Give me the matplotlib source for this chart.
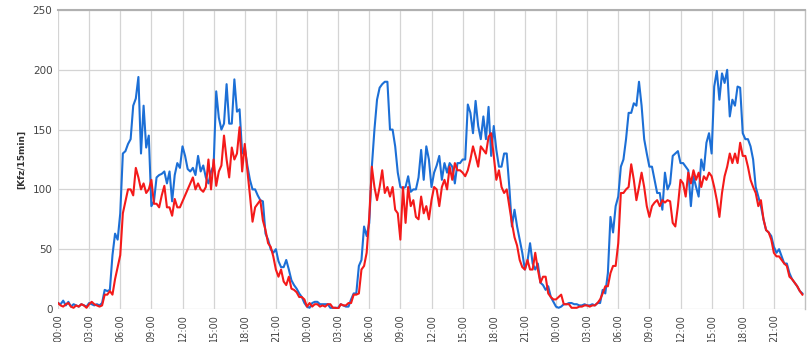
import numpy as np
import matplotlib
matplotlib.use("Agg")
import matplotlib.pyplot as plt

# 15-minute traffic counts [Kfz/15min], three consecutive days
blue_day1 = [5, 4, 7, 3, 6, 2, 4, 3, 2, 4, 3, 2, 5, 4, 3, 4,
             3, 5, 16, 15, 16, 45, 63, 58, 80, 130, 132, 138, 142, 170, 176, 194,
             130, 170, 135, 145, 86, 90, 110, 112, 113, 115, 105, 115, 90, 112, 122, 118,
             136, 128, 117, 115, 118, 112, 128, 115, 120, 110, 105, 115, 120, 182, 160, 150,
             155, 188, 155, 155, 192, 165, 167, 130, 135, 120, 108, 100, 100, 95, 91, 90,
             63, 58, 50, 47, 50, 40, 35, 35, 41, 33, 24, 20, 17, 13, 10, 5]
red_day1 = [5, 3, 2, 4, 5, 2, 1, 3, 2, 4, 3, 1, 4, 6, 4, 3,
            2, 3, 12, 12, 15, 12, 25, 35, 45, 80, 90, 100, 100, 95, 118, 110,
            100, 105, 97, 100, 108, 88, 88, 85, 95, 103, 85, 85, 78, 92, 85, 85,
            90, 95, 100, 105, 110, 100, 105, 100, 98, 102, 125, 100, 125, 103, 115, 120,
            145, 125, 110, 135, 125, 130, 152, 115, 138, 116, 95, 73, 85, 88, 91, 74,
            66, 55, 52, 44, 33, 27, 33, 23, 20, 27, 17, 16, 14, 10, 10, 8]
blue_day2 = [2, 1, 5, 6, 6, 4, 4, 4, 4, 1, 1, 1, 1, 4, 3, 2,
             2, 8, 13, 13, 36, 41, 69, 61, 72, 119, 150, 175, 185, 188, 190, 190,
             150, 150, 136, 114, 102, 101, 102, 111, 98, 100, 100, 110, 133, 108, 136, 125,
             102, 114, 120, 128, 108, 122, 114, 122, 119, 105, 122, 122, 125, 125, 171, 164,
             147, 174, 153, 142, 161, 142, 169, 128, 153, 133, 119, 119, 130, 130, 102, 69,
             83, 69, 58, 47, 33, 40, 55, 38, 33, 38, 22, 20, 16, 19, 10, 6]
red_day2 = [2, 5, 2, 4, 4, 2, 3, 2, 4, 4, 1, 1, 0, 4, 3, 3,
            5, 5, 12, 12, 13, 33, 36, 47, 77, 119, 102, 91, 102, 116, 97, 102,
            94, 102, 83, 80, 58, 102, 72, 102, 86, 91, 77, 75, 94, 80, 86, 75,
            91, 102, 100, 86, 102, 108, 100, 119, 108, 122, 116, 116, 114, 111, 116, 125,
            136, 128, 119, 136, 133, 130, 144, 147, 128, 108, 116, 102, 97, 100, 86, 72,
            60, 53, 41, 35, 33, 41, 33, 33, 47, 33, 22, 27, 27, 13, 10, 8]
blue_day3 = [2, 1, 2, 4, 4, 5, 5, 4, 4, 3, 3, 4, 3, 3, 4, 3,
             5, 5, 16, 13, 30, 77, 64, 86, 94, 119, 125, 142, 164, 164, 172, 170,
             190, 170, 142, 130, 119, 119, 108, 97, 97, 83, 114, 100, 105, 128, 130, 132,
             122, 122, 119, 116, 86, 111, 102, 94, 125, 116, 139, 147, 130, 186, 199, 175,
             197, 189, 200, 161, 175, 170, 186, 185, 147, 142, 142, 136, 125, 102, 94, 86,
             75, 66, 64, 61, 52, 47, 50, 44, 38, 38, 30, 25, 22, 19, 15, 13]
red_day3 = [8, 10, 12, 4, 4, 4, 1, 1, 1, 2, 2, 3, 3, 2, 3, 3,
            5, 8, 13, 19, 19, 30, 36, 36, 55, 97, 97, 100, 102, 121, 108, 91,
            102, 114, 102, 86, 77, 86, 89, 91, 86, 91, 89, 91, 90, 72, 69, 86,
            108, 105, 94, 114, 105, 116, 108, 114, 102, 111, 108, 114, 111, 102, 91, 77,
            97, 111, 119, 130, 122, 130, 122, 139, 128, 128, 119, 108, 102, 97, 86, 91,
            75, 66, 64, 58, 47, 44, 44, 41, 38, 36, 27, 25, 22, 19, 15, 12]

tick_labels = ["00:00", "03:00", "06:00", "09:00", "12:00", "15:00", "18:00", "21:00"] * 3
y_ticks = [0, 50, 100, 150, 200, 250]
y_label = "[Kfz/15min]"

blue = np.array(blue_day1 + blue_day2 + blue_day3, dtype=float)
red = np.array(red_day1 + red_day2 + red_day3, dtype=float)
hours = np.arange(len(blue)) * 0.25

fig = plt.figure(figsize=(8.07, 3.42), dpi=100)
ax = fig.add_axes([58 / 807, 1 - 309 / 342, (805 - 58) / 807, (309 - 10) / 342])

ax.plot(hours, blue, color="#1c6fd6", lw=1.5, zorder=3, solid_joinstyle="round")
ax.plot(hours, red, color="#f41a1a", lw=1.5, zorder=4, solid_joinstyle="round")

ax.set_xlim(0, 72)
ax.set_ylim(0, 250)
ax.set_xticks(np.arange(len(tick_labels)) * 3)
ax.set_xticklabels(tick_labels, rotation=90, fontsize=7, color="#444444")
ax.set_yticks(y_ticks)
ax.set_yticklabels([str(v) for v in y_ticks], fontsize=7.5, color="#444444")
ax.tick_params(axis="both", length=0, pad=4)
ax.grid(True, color="#d4d4d4", lw=0.9, zorder=0)
ax.set_axisbelow(True)

for side in ["left", "bottom"]:
    ax.spines[side].set_visible(False)
ax.spines["top"].set_color("#b0b0b0")
ax.spines["top"].set_linewidth(1.5)
ax.spines["right"].set_color("#c0c0c0")
ax.spines["right"].set_linewidth(1.0)

ax.set_ylabel(y_label, fontsize=6.5, fontweight="bold", color="#333333", labelpad=5)

fig.savefig("out.png", dpi=100, facecolor="white")
